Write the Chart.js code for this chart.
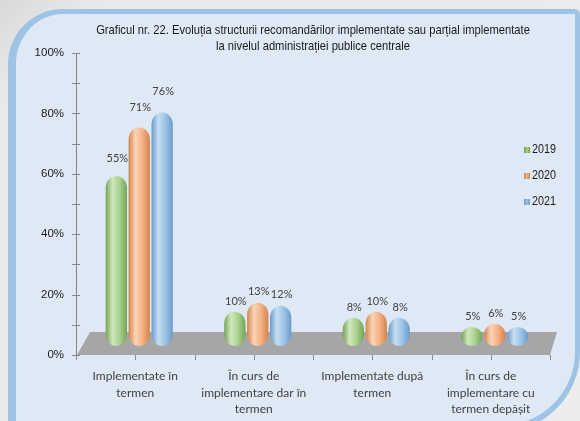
<!DOCTYPE html>
<html>
<head>
<meta charset="utf-8">
<script src="https://cdn.jsdelivr.net/npm/chart.js@4.4.1/dist/chart.umd.min.js"></script>
<style>
  html, body { margin: 0; padding: 0; }
  body {
    width: 580px; height: 421px; overflow: hidden; position: relative;
    background: linear-gradient(135deg, #d9d9d9 0%, #e9e9e9 10%, #ededed 100%);
  }
  .frame {
    position: absolute; left: 8px; top: 9px; width: 572px; height: 423px;
    box-sizing: border-box; background: #dee9f5;
    border-style: solid; border-color: #9dc3e6;
    border-width: 5px 5px 6px 8px;
    border-radius: 55px 5px 80px 8px;
  }
  canvas { position: absolute; left: 0; top: 0; }
</style>
</head>
<body>
<div class="frame"></div>
<canvas id="chart" width="580" height="421"></canvas>
<script>
// date grafic
const categories = [
  ["Implementate în", "termen"],
  ["În curs de", "implementare dar în", "termen"],
  ["Implementate după", "termen"],
  ["În curs de", "implementare cu", "termen depășit"],
];
const years = ["2019", "2020", "2021"];
const values2019 = [55, 10, 8, 5];
const values2020 = [71, 13, 10, 6];
const values2021 = [76, 12, 8, 5];
const yTickLabels = ["0%", "20%", "40%", "60%", "80%", "100%"];
const titleLines = [
  "Graficul nr. 22. Evoluția structurii recomandărilor implementate sau parțial implementate",
  "la nivelul administrației publice centrale",
];

const SANS = "'Liberation Sans', Arial, sans-serif";
const colors = [
  { mid: "#a9d18e", dark: "#76a354", light: "#cfe8bd", box: "#6f9f4e" },
  { mid: "#f4b183", dark: "#d3844d", light: "#fad3b6", box: "#d08550" },
  { mid: "#9dc3e6", dark: "#6c9bc9", light: "#c6def2", box: "#7099c4" },
];

/**
 * desenează un cilindru rotunjit (stil Excel)
 */
const capsule = (ctx, cx, top, bottom, w, c) => {
  const rx = w / 2;
  const ry = Math.min(12, (bottom - top) / 2);
  const g = ctx.createLinearGradient(cx - rx, 0, cx + rx, 0);
  g.addColorStop(0, c.dark);
  g.addColorStop(0.32, c.light);
  g.addColorStop(0.65, c.mid);
  g.addColorStop(1, c.dark);
  ctx.beginPath();
  ctx.ellipse(cx, top + ry, rx, ry, 0, Math.PI, 0);
  ctx.lineTo(cx + rx, bottom - ry);
  ctx.ellipse(cx, bottom - ry, rx, ry, 0, 0, Math.PI);
  ctx.closePath();
  ctx.fillStyle = g;
  ctx.fill();
};

// text îngustat (imitație Arial Narrow)
const narrowText = (ctx, text, x, y, sx) => {
  ctx.save();
  ctx.translate(x, y);
  ctx.scale(sx, 1);
  ctx.fillText(text, 0, 0);
  ctx.restore();
};

const cylinders = {
  id: "cylinders",
  beforeDatasetsDraw(chart) {
    const { ctx, chartArea: a } = chart;
    const xs = chart.scales.x;
    const ys = chart.scales.y;
    ctx.save();
    // podeaua gri
    ctx.fillStyle = "#a6a6a6";
    ctx.beginPath();
    ctx.moveTo(a.left + 1, a.bottom);
    ctx.lineTo(a.left + 14, a.bottom - 23);
    ctx.lineTo(a.right + 7, a.bottom - 23);
    ctx.lineTo(a.right, a.bottom);
    ctx.closePath();
    ctx.fill();
    // gradatii
    ctx.strokeStyle = "#8a8a8a";
    ctx.lineWidth = 1;
    ctx.beginPath();
    ys.ticks.forEach((t) => {
      const y = Math.round(ys.getPixelForValue(t.value)) + 0.5;
      ctx.moveTo(a.left - 4, y);
      ctx.lineTo(a.left + 4, y);
    });
    for (let i = -0.5; i <= categories.length - 0.5; i += 0.5) {
      const x = Math.round(xs.getPixelForValue(i)) + 0.5;
      ctx.moveTo(x, a.bottom);
      ctx.lineTo(x, a.bottom + 5);
    }
    ctx.stroke();
    ctx.restore();
  },
  afterDatasetsDraw(chart) {
    const { ctx } = chart;
    ctx.save();
    chart.data.datasets.forEach((ds, di) => {
      chart.getDatasetMeta(di).data.forEach((el, i) => {
        const cx = el.x + 4;
        const top = el.y - 13;
        const bottom = el.base - 9;
        capsule(ctx, cx, top, bottom, el.width, colors[di]);
        ctx.fillStyle = "#404040";
        ctx.font = "11px Lato";
        ctx.textAlign = "center";
        ctx.textBaseline = "middle";
        ctx.fillText(ds.data[i] + "%", cx + 1, top - 9 - 0.05 * (bottom - top));
      });
    });
    ctx.restore();
  },
  afterDraw(chart) {
    const { ctx, chartArea: a } = chart;
    ctx.save();
    // titlu
    ctx.fillStyle = "#1a1a1a";
    ctx.font = "13px " + SANS;
    ctx.textAlign = "center";
    ctx.textBaseline = "middle";
    titleLines.forEach((line, i) => {
      narrowText(ctx, line, (a.left + a.right) / 2, 30 + i * 16, 0.86);
    });
    // legenda
    ctx.font = "12.5px " + SANS;
    ctx.textAlign = "left";
    years.forEach((y, i) => {
      const ly = a.top + 97 + i * 26;
      const lx = a.right - 26;
      const g = ctx.createLinearGradient(lx, 0, lx + 6, 0);
      g.addColorStop(0, colors[i].box);
      g.addColorStop(0.5, colors[i].mid);
      g.addColorStop(1, colors[i].box);
      ctx.fillStyle = g;
      ctx.fillRect(lx, ly - 3, 6, 6);
      ctx.fillStyle = "#1a1a1a";
      narrowText(ctx, y, lx + 8, ly, 0.86);
    });
    ctx.restore();
  },
};

new Chart(document.getElementById("chart"), {
  type: "bar",
  data: {
    labels: categories,
    datasets: [values2019, values2020, values2021].map((vals, i) => ({
      label: years[i],
      data: vals,
      backgroundColor: "rgba(0,0,0,0)",
      borderWidth: 0,
    })),
  },
  options: {
    responsive: false,
    animation: false,
    layout: { padding: { left: 30, top: 53, right: 30, bottom: 6 } },
    datasets: { bar: { categoryPercentage: 0.58, barPercentage: 0.93 } },
    plugins: {
      legend: { display: false },
      title: { display: false },
      tooltip: { enabled: false },
    },
    scales: {
      x: {
        grid: { display: false },
        border: { display: false },
        ticks: {
          padding: 5,
          color: "#404040",
          maxRotation: 0,
          autoSkip: false,
          font: { family: "Lato", size: 12, lineHeight: 1.38 },
        },
        afterFit: (s) => {
          s.height = 60;
        },
      },
      y: {
        min: 0,
        max: 100,
        grid: { display: false },
        border: { color: "#868686" },
        ticks: {
          stepSize: 10,
          padding: 4,
          color: "#1a1a1a",
          font: { family: SANS, size: 11.5 },
          callback: (v) => (v % 20 === 0 ? yTickLabels[v / 20] : ""),
        },
        afterFit: (s) => {
          s.width = 46;
        },
      },
    },
  },
  plugins: [cylinders],
});
</script>
</body>
</html>
